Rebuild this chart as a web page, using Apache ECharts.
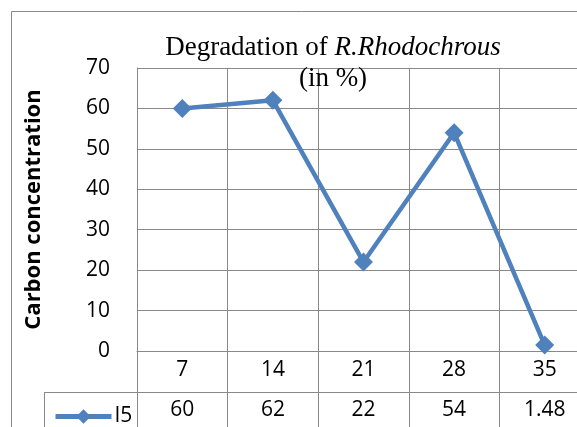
<!DOCTYPE html>
<html><head><meta charset="utf-8">
<script src="https://cdn.jsdelivr.net/npm/echarts@6/dist/echarts.min.js"></script>
<style>html,body{margin:0;padding:0;background:#fff;overflow:hidden}#c{width:590px;height:427px}</style>
</head><body><div id="c"></div>
<script>
var categories = ['7', '14', '21', '28', '35'];
var seriesName = 'I5';
var values = [60, 62, 22, 54, 1.48];
var valueLabels = ['60', '62', '22', '54', '1.48'];
var yTicks = {min: 0, max: 70, interval: 10};

var gray = '#898989';
var blue = '#4F81BD';
var chart = echarts.init(document.getElementById('c'));
chart.setOption({
  animation: false,
  backgroundColor: '#fff',
  title: {
    text: '{a|Degradation of }{b|R.Rhodochrous}\n{a|(in %)}',
    left: 333, top: 32, textAlign: 'center', padding: 0,
    textStyle: {
      fontWeight: 'normal',
      rich: {
        a: {fontFamily: 'Liberation Serif', fontSize: 27, fontWeight: 'normal', color: '#000', lineHeight: 31},
        b: {fontFamily: 'Liberation Serif', fontSize: 27, fontWeight: 'normal', fontStyle: 'italic', color: '#000', lineHeight: 31}
      }
    }
  },
  legend: {
    data: [seriesName], left: 48, top: 401, itemWidth: 56, itemHeight: 18, itemGap: 4,
    lineStyle: {width: 5},
    textStyle: {fontFamily: 'Open Sans', fontSize: 21, color: '#000', padding: [0,0,0,-2]}
  },
  grid: {left: 137, right: 0, top: 68, bottom: 76, containLabel: false},
  xAxis: [{
    type: 'category', data: categories, boundaryGap: true, position: 'bottom',
    axisLine: {show: true, lineStyle: {color: gray, width: 1}},
    axisTick: {show: true, length: 41, lineStyle: {color: gray}},
    splitLine: {show: true, lineStyle: {color: gray}},
    axisLabel: {fontFamily: 'Open Sans', fontSize: 21, color: '#000', margin: 9}
  }, {
    type: 'category', data: valueLabels, boundaryGap: true, position: 'bottom', offset: 41,
    axisLine: {show: true, lineStyle: {color: gray, width: 1}},
    axisTick: {show: true, length: 40, lineStyle: {color: gray}},
    splitLine: {show: false},
    axisLabel: {fontFamily: 'Open Sans', fontSize: 21, color: '#000', margin: 8}
  }],
  yAxis: {
    type: 'value', min: yTicks.min, max: yTicks.max, interval: yTicks.interval,
    name: 'Carbon concentration', nameLocation: 'middle', nameRotate: 90, nameGap: 92,
    nameTextStyle: {fontFamily: 'Open Sans', fontWeight: 'bold', fontSize: 22, color: '#000'},
    axisLine: {show: true, lineStyle: {color: gray}},
    axisTick: {show: false},
    splitLine: {show: true, lineStyle: {color: gray}},
    axisLabel: {fontFamily: 'Open Sans', fontSize: 21, color: '#000', margin: 27}
  },
  series: [{
    name: seriesName, type: 'line', data: values, xAxisIndex: 0,
    symbol: 'diamond', symbolSize: 19, showAllSymbol: true,
    lineStyle: {color: blue, width: 4.5},
    itemStyle: {color: blue}
  }],
  graphic: [
    {type: 'rect', shape: {x: 11.5, y: 11.5, width: 700, height: 600}, style: {fill: null, stroke: gray, lineWidth: 1}, silent: true},
    {type: 'line', shape: {x1: 44, y1: 392.5, x2: 137, y2: 392.5}, style: {stroke: gray, lineWidth: 1}, silent: true},
    {type: 'line', shape: {x1: 44.5, y1: 392, x2: 44.5, y2: 430}, style: {stroke: gray, lineWidth: 1}, silent: true}
  ]
});
</script></body></html>
